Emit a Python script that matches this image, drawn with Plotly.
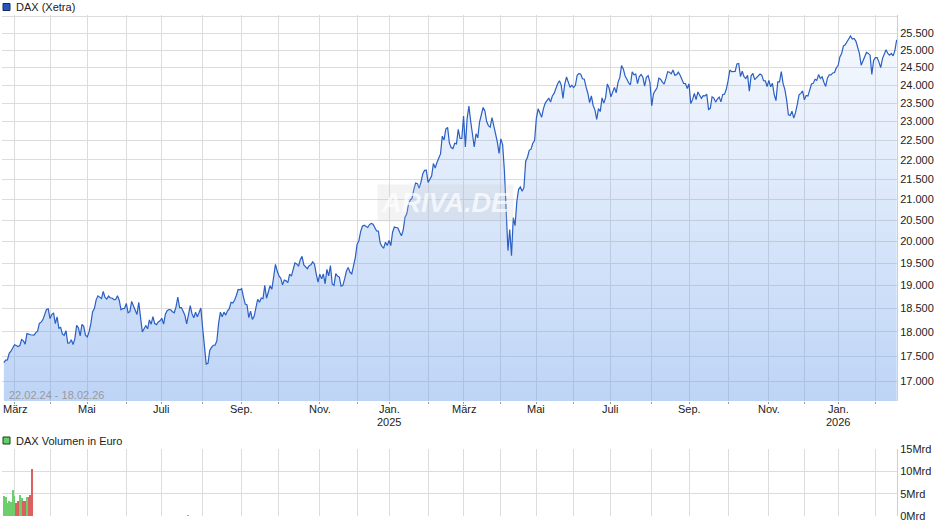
import numpy as np
import pandas as pd
import plotly.graph_objects as go

# ---------------- data ----------------
close_2024 = [
    # Feb
    17370, 17419, 17424, 17556, 17601, 17678,
    # Mar
    17735, 17717, 17698, 17716, 17842, 17815, 17746, 17965, 17961, 17942, 17936, 17933, 17987, 18015,
    18180, 18206, 18261, 18384, 18477, 18492,
    # Apr
    18283, 18367, 18403, 18175, 18318, 18077, 18097, 17954, 17930, 18027, 17766, 17770, 17837, 17737,
    17860, 18137, 18088, 17917, 18161, 18118, 17932,
    # May
    17896, 18001, 18175, 18430, 18498, 18686, 18773, 18742, 18716, 18869, 18739, 18704, 18768, 18727,
    18726, 18691, 18693, 18775, 18677, 18473, 18496, 18498,
    # Jun
    18608, 18405, 18431, 18652, 18557, 18494, 18369, 18630, 18265, 18002, 18068, 18131, 18067, 18254,
    18164, 18326, 18177, 18155, 18210, 18235,
    # Jul
    18290, 18164, 18374, 18450, 18475, 18472, 18429, 18407, 18534, 18748, 18516, 18518, 18437, 18354,
    18171, 18407, 18558, 18387, 18298, 18417, 18320, 18411, 18509,
    # Aug
    18083, 17661, 17339, 17354, 17615, 17680, 17723, 17726, 17812, 18185, 18420, 18322, 18421, 18357,
    18448, 18494, 18633, 18617, 18682, 18782, 18912, 18906,
    # Sep
    18930, 18747, 18592, 18576, 18301, 18443, 18266, 18330, 18518, 18699, 18633, 18726, 18711, 19002,
    18720, 18847, 18996, 18918, 19238, 19474, 19325,
    # Oct
    19213, 19164, 19015, 19120, 19104, 19066, 19254, 19211, 19373, 19508, 19486, 19432, 19583, 19657,
    19461, 19421, 19377, 19443, 19463, 19531, 19479, 19257, 19078,
    # Nov
    19255, 19148, 19256, 19039, 19362, 19215, 19448, 19034, 19003, 19264, 19211, 19189, 18988, 19005,
    19146, 19323, 19406, 19295, 19262, 19426, 19626,
    # Dec
    19934, 20017, 20232, 20359, 20385, 20346, 20329, 20399, 20426, 20406, 20314, 20246, 20243, 19970,
    19885, 19849, 19984, 19909,
]
close_2025 = [
    # Jan
    20025, 19906, 20217, 20340, 20330, 20317, 20215, 20133, 20271, 20575, 20655, 20903, 20990, 21042,
    21254, 21411, 21395, 21282, 21431, 21637, 21727, 21732,
    # Feb
    21428, 21505, 21585, 21902, 21787, 21929, 22037, 22148, 22612, 22513, 22798, 22844, 22434, 22314,
    22287, 22426, 22410, 22794, 22551, 22551,
    # Mar
    23147, 22327, 23081, 23419, 23009, 22620, 22329, 22676, 22568, 22987, 23154, 23380, 23288, 22999,
    22892, 22852, 23109, 22839, 22679, 22461, 22163,
    # Apr
    22539, 22391, 21717, 20642, 19790, 20280, 19670, 20563, 20374, 20954, 21254, 21311, 21206, 21294,
    21962, 22064, 22242, 22272, 22426, 22497,
    # May
    23087, 23345, 23250, 23116, 23352, 23499, 23567, 23638, 23527, 23696, 23767, 23935, 24036, 24122,
    23999, 23630, 24027, 24226, 24039, 23933, 23997,
    # Jun
    23930, 23994, 24276, 24324, 24304, 24174, 24162, 23949, 23771, 23516, 23699, 23435, 23317, 23057,
    23351, 23270, 23642, 23498, 23649, 24033, 23910,
    # Jul
    23673, 23790, 23934, 23787, 24074, 24207, 24549, 24457, 24256, 24161, 24060, 24009, 24371, 24290,
    24308, 24042, 24240, 24296, 24218, 23970, 24217, 24262, 24065,
    # Aug
    23426, 23757, 23846, 23924, 24193, 24163, 24081, 24025, 24186, 24377, 24359, 24315, 24423, 24277,
    24293, 24363, 24273, 24152, 24046, 24039, 23902,
    # Sep
    24037, 23487, 23595, 23770, 23597, 23807, 23718, 23632, 23704, 23698, 23749, 23329, 23359, 23675,
    23639, 23527, 23611, 23666, 23534, 23739, 23745, 23881,
    # Oct
    24114, 24423, 24378, 24378, 24385, 24597, 24611, 24241, 24388, 24237, 24181, 24272, 23830, 24259,
    24330, 24152, 24207, 24240, 24309, 24279, 24124, 24119, 23958,
    # Nov
    24132, 23950, 24050, 23734, 23569, 24088, 24088, 24381, 24041, 23877, 23590, 23180, 23162, 23279,
    23091, 23239, 23464, 23726, 23768, 23836,
    # Dec
    23589, 23711, 23694, 23882, 24028, 24046, 24162, 24131, 24294, 24186, 24230, 24077, 23960, 24200,
    24288, 24283, 24340, 24351, 24490,
]
close_2026 = [
    # Jan
    24550, 24800, 24900, 25120, 25150, 25250, 25330, 25410, 25320, 25340, 25260, 25050, 24900, 24560,
    24700, 24820, 24930, 24900, 24850, 24300, 24700,
    # Feb
    24780, 24780, 24650, 24490, 24750, 24900, 25010, 24900, 24850, 24900, 24830, 24990, 25300,
]

xetra_holidays = [
    "2024-03-29", "2024-04-01", "2024-05-01", "2024-12-24", "2024-12-25", "2024-12-26", "2024-12-31",
    "2025-01-01", "2025-04-18", "2025-04-21", "2025-05-01", "2025-12-24", "2025-12-25", "2025-12-26",
    "2025-12-31", "2026-01-01",
]
period_start, period_end = "2024-02-22", "2026-02-18"

vol_dates = [
    "2024-02-22", "2024-02-23", "2024-02-26", "2024-02-27", "2024-02-28", "2024-02-29", "2024-03-01",
    "2024-03-04", "2024-03-05", "2024-03-06", "2024-03-07", "2024-03-08", "2024-03-11", "2024-03-12",
    "2024-03-13", "2024-03-14", "2024-03-15", "2024-07-22",
]
vol_mrd = [4.5, 4.2, 2.9, 3.4, 3.1, 5.8, 4.5, 2.9, 3.4, 4.8, 4.0, 3.4, 3.4, 4.2, 4.2, 4.8, 10.6, 0.15]

month_names = {1: "Jan.", 3: "März", 5: "Mai", 7: "Juli", 9: "Sep.", 11: "Nov."}
price_ticks = list(range(17000, 26001, 500))
vol_ticks = [0, 5, 10, 15]
vol_tick_text = ["0Mrd", "5Mrd", "10Mrd", "15Mrd"]

# ---------------- derived ----------------
closes = close_2024 + close_2025 + close_2026
dates = pd.bdate_range(period_start, period_end, freq="C", holidays=xetra_holidays)
assert len(dates) == len(closes), (len(dates), len(closes))
idx = np.arange(len(dates))
date_to_idx = {d.strftime("%Y-%m-%d"): i for i, d in enumerate(dates)}

# month ticks (first trading day of every month), year labels under January
tick_pos, tick_txt, year_pos, year_txt = [], [], [], []
prev_m = dates[0].month
for i, d in enumerate(dates):
    if i > 0 and d.month != prev_m:
        tick_pos.append(i)
        tick_txt.append(month_names.get(d.month, ""))
        if d.month == 1:
            year_pos.append(i)
            year_txt.append(str(d.year))
    prev_m = d.month

# price tick labels (the top grid line carries no label)
price_tick_text = [f"{v:,}".replace(",", ".") if v <= 25500 else "" for v in price_ticks]

# volume bars: colour from daily change of the close
vol_x = [date_to_idx[d] for d in vol_dates]
vol_col = []
for i in vol_x:
    up = True if i == 0 else closes[i] >= closes[i - 1]
    vol_col.append("#6ccf6c" if up else "#d9625f")

# ---------------- layout geometry ----------------
W, H = 940, 526
L, R, T, B = 2, 43, 15, 10
PW, PH = W - L - R, H - T - B


def px(x):
    return (x - L) / PW


def py(y):
    return (H - B - y) / PH


x_range = [(2 - 3.85) / 1.775, (897 - 3.85) / 1.775]
y_lo, y_hi = 4.22033, 4.41565
base = 10 ** y_lo * 0.98

FONT = "Liberation Sans, Arial, sans-serif"

fig = go.Figure()
fig.add_trace(go.Scatter(x=idx, y=[base] * len(idx), mode="lines", line=dict(width=0),
                         hoverinfo="skip", showlegend=False, xaxis="x", yaxis="y"))
fig.add_trace(go.Scatter(
    x=idx, y=closes, mode="lines", line=dict(color="#2a5fc4", width=1.2),
    fill="tonexty",
    fillgradient=dict(type="vertical",
                      colorscale=[[0, "rgba(110,160,236,0.47)"], [1, "rgba(110,160,236,0.07)"]]),
    showlegend=False, xaxis="x", yaxis="y"))
fig.add_trace(go.Bar(x=vol_x, y=vol_mrd, marker=dict(color=vol_col, line=dict(width=0)),
                     width=0.55, showlegend=False, xaxis="x2", yaxis="y2"))

grid = "#dcdcdc"
fig.update_layout(
    width=W, height=H,
    margin=dict(l=L, r=R, t=T, b=B, pad=0),
    paper_bgcolor="white", plot_bgcolor="white",
    separators=",.",
    font=dict(family=FONT, size=11, color="#222"),
    xaxis=dict(domain=[0, 1], range=x_range, anchor="y", tickmode="array", tickvals=tick_pos,
               showticklabels=False, showgrid=True, gridcolor=grid, gridwidth=1, ticks="outside",
               ticklen=2, tickcolor="#999", zeroline=False, showline=False),
    yaxis=dict(domain=[py(401), 1], type="log", range=[y_lo, y_hi], side="right", anchor="x",
               tickmode="array", tickvals=price_ticks, ticktext=price_tick_text, showgrid=True,
               gridcolor=grid, ticks="", showline=True, linecolor="#cfcfcf", zeroline=False,
               tickfont=dict(size=11, color="#222")),
    xaxis2=dict(domain=[0, 1], range=x_range, anchor="y2", tickmode="array", tickvals=tick_pos,
                showticklabels=False, showgrid=True, gridcolor=grid, ticks="", zeroline=False),
    yaxis2=dict(domain=[0, py(449)], range=[0, 15], side="right", anchor="x2", tickmode="array",
                tickvals=vol_ticks, ticktext=vol_tick_text, showgrid=True, gridcolor=grid,
                ticks="", showline=True, linecolor="#cfcfcf", zeroline=False,
                tickfont=dict(size=11, color="#222")),
    bargap=0,
)

shapes = [
    dict(type="rect", xref="paper", yref="paper", x0=px(3), x1=px(10), y0=py(10.5), y1=py(3.5),
         fillcolor="#2256c2", line=dict(color="#1a2a55", width=1)),
    dict(type="rect", xref="paper", yref="paper", x0=px(3), x1=px(10), y0=py(444), y1=py(437),
         fillcolor="#62d062", line=dict(color="#1f3a1f", width=1)),
]
annotations = [
    dict(text="DAX (Xetra)", xref="paper", yref="paper", x=px(14), y=py(7), xanchor="left",
         yanchor="middle", showarrow=False, font=dict(size=11, color="#222")),
    dict(text="DAX Volumen in Euro", xref="paper", yref="paper", x=px(14), y=py(440.5),
         xanchor="left", yanchor="middle", showarrow=False, font=dict(size=11, color="#222")),
    dict(text="22.02.24 - 18.02.26", xref="paper", yref="paper", x=px(7), y=py(394.5),
         xanchor="left", yanchor="middle", showarrow=False, font=dict(size=11, color="#9a9a9a")),
    dict(text="ARIVA.DE", xref="paper", yref="paper", x=px(445), y=py(203), xanchor="center",
         yanchor="middle", showarrow=False, bgcolor="rgba(200,200,200,0.22)", borderpad=3,
         font=dict(family=FONT, size=27, color="rgba(255,255,255,0.7)", weight="bold",
                   style="italic")),
]
# month labels (x-axis tick text) and year labels below January
for xp, mt in zip(tick_pos, tick_txt):
    if mt:
        annotations.append(dict(text=mt, xref="x", yref="paper", x=xp, y=py(409),
                                xanchor="center", yanchor="middle", showarrow=False,
                                font=dict(size=11, color="#222")))
for xp, yt in zip(year_pos, year_txt):
    annotations.append(dict(text=yt, xref="x", yref="paper", x=xp, y=py(421.5), xanchor="center",
                            yanchor="middle", showarrow=False, font=dict(size=11, color="#222")))
fig.update_layout(shapes=shapes, annotations=annotations)

fig.write_html("out.html", config={"displayModeBar": False},
               post_script="document.body.style.margin='0px';document.body.style.padding='0px';")
